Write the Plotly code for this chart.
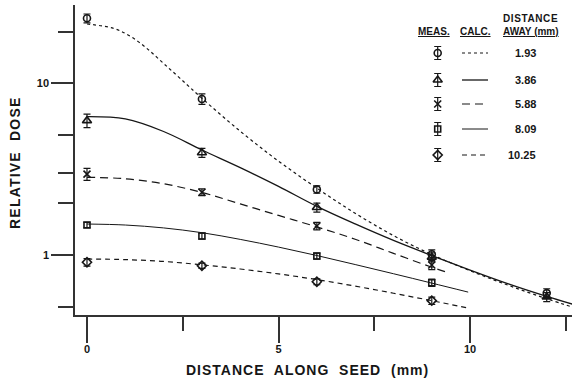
import plotly.graph_objects as go

# ---------------- data ----------------
distances = ["1.93", "3.86", "5.88", "8.09", "10.25"]

meas_x_5 = [0, 3, 6, 9, 12]
meas_x_4 = [0, 3, 6, 9]

meas_193 = [23.9, 8.1, 2.41, 1.01, 0.60]
meas_386 = [6.06, 3.94, 1.89, 0.97, 0.57]
meas_588 = [2.96, 2.32, 1.475, 0.875]
meas_809 = [1.495, 1.29, 0.987, 0.69]
meas_1025 = [0.907, 0.866, 0.699, 0.542]

# error bars, percent of value
err_193 = [6, 7, 5, 6, 6]
err_386 = [9, 6, 6, 6, 6]
err_588 = [8, 4.5, 5, 6]
err_809 = [3.5, 4, 4, 5]
err_1025 = [5, 3.5, 4, 5]

calc_x_193 = [0, 0.69, 1.12, 1.56, 2.0, 2.43, 3.0, 4.0, 5.0, 6.0, 7.0, 8.0, 9.0, 10.0, 11.0, 12.0, 12.7]
calc_y_193 = [22.15, 20.9, 18.86, 15.99, 13.04, 10.69, 8.18, 5.26, 3.52, 2.45, 1.75, 1.297, 1.005, 0.810, 0.666, 0.556, 0.495]

calc_x_386 = [0, 1, 2, 3, 4, 5, 6, 7, 8, 9, 10, 11, 12, 12.7]
calc_y_386 = [6.39, 6.2, 5.24, 4.09, 3.23, 2.51, 1.92, 1.517, 1.216, 0.993, 0.817, 0.679, 0.574, 0.515]

calc_x_588 = [0, 1, 2, 3, 4, 5, 6, 7, 8, 9, 9.35]
calc_y_588 = [2.835, 2.78, 2.60, 2.315, 1.984, 1.70, 1.458, 1.236, 1.022, 0.849, 0.80]

calc_x_809 = [0, 1, 2, 3, 4, 5, 6, 7, 8, 9, 9.95]
calc_y_809 = [1.515, 1.495, 1.438, 1.349, 1.233, 1.112, 0.993, 0.880, 0.778, 0.686, 0.608]

calc_x_1025 = [0, 1, 2, 3, 4, 5, 6, 7, 8, 9, 9.95]
calc_y_1025 = [0.948, 0.940, 0.917, 0.877, 0.829, 0.776, 0.719, 0.659, 0.599, 0.542, 0.491]

x_major_ticks = [0, 5, 10]
x_minor_ticks = [2.5, 7.5, 12.5]
y_major_ticks = [1, 10]
y_major_labels = ["1", "10"]
y_minor_ticks = [0.5, 2, 3, 5, 20]

# ---------------- styles ----------------
INK = "#161616"
FONT = "Liberation Sans"

series = [
    dict(mx=meas_x_5, my=meas_193, err=err_193, cx=calc_x_193, cy=calc_y_193,
         symbol="circle-open", size=7, dash="3px,3px", width=1.2),
    dict(mx=meas_x_5, my=meas_386, err=err_386, cx=calc_x_386, cy=calc_y_386,
         symbol="triangle-up-open", size=8, dash="solid", width=1.3),
    dict(mx=meas_x_4, my=meas_588, err=err_588, cx=calc_x_588, cy=calc_y_588,
         symbol="x-thin", size=7, dash="8px,5px", width=1.2),
    dict(mx=meas_x_4, my=meas_809, err=err_809, cx=calc_x_809, cy=calc_y_809,
         symbol="square-open", size=6, dash="solid", width=1.0),
    dict(mx=meas_x_4, my=meas_1025, err=err_1025, cx=calc_x_1025, cy=calc_y_1025,
         symbol="diamond-open", size=7, dash="5px,4px", width=1.2),
]

fig = go.Figure()

for s in series:
    fig.add_trace(go.Scatter(
        x=s["cx"], y=s["cy"], mode="lines",
        line=dict(color=INK, width=s["width"], dash=s["dash"], shape="spline", smoothing=1.0),
        hoverinfo="skip", cliponaxis=False,
    ))
for s in series:
    errs = [v * p / 100.0 for v, p in zip(s["my"], s["err"])]
    fig.add_trace(go.Scatter(
        x=s["mx"], y=s["my"], mode="markers",
        marker=dict(symbol=s["symbol"], size=s["size"], color=INK,
                    line=dict(color=INK, width=1.6)),
        error_y=dict(type="data", array=errs, visible=True, color=INK,
                     thickness=1.2, width=3.5),
        cliponaxis=False,
    ))

# ---------------- legend block (pixel overlay axes) ----------------
leg_rows = [53, 80, 104, 129, 155]
leg_marker_x = 437.7
leg_line_x = [462, 488]
leg_value_x = 538

for s, ry, lab in zip(series, leg_rows, distances):
    fig.add_trace(go.Scatter(
        x=[leg_marker_x], y=[ry], mode="markers", xaxis="x2", yaxis="y2",
        marker=dict(symbol=s["symbol"], size=s["size"], color=INK,
                    line=dict(color=INK, width=1.6)),
        error_y=dict(type="data", array=[6.5], visible=True, color=INK,
                     thickness=1.2, width=3.5),
        cliponaxis=False, hoverinfo="skip",
    ))
    fig.add_trace(go.Scatter(
        x=leg_line_x, y=[ry, ry], mode="lines", xaxis="x2", yaxis="y2",
        line=dict(color=INK, width=s["width"], dash=s["dash"]),
        cliponaxis=False, hoverinfo="skip",
    ))

annotations = []
for ry, lab in zip(leg_rows, distances):
    annotations.append(dict(x=leg_value_x, y=ry, xref="x2", yref="y2", text=lab,
                            xanchor="right", yanchor="middle", showarrow=False,
                            font=dict(family=FONT, size=11, color=INK, weight="bold")))

hdr_font = dict(family=FONT, size=10, color=INK, weight="bold")
annotations += [
    dict(x=434, y=31, xref="x2", yref="y2", text="<u>MEAS.</u>", showarrow=False,
         xanchor="center", yanchor="middle", font=hdr_font),
    dict(x=475.5, y=31, xref="x2", yref="y2", text="<u>CALC.</u>", showarrow=False,
         xanchor="center", yanchor="middle", font=hdr_font),
    dict(x=530, y=18, xref="x2", yref="y2",
         text='<span style="letter-spacing:0.6px">DISTANCE</span>', showarrow=False,
         xanchor="center", yanchor="middle", font=hdr_font),
    dict(x=531, y=31, xref="x2", yref="y2", text="<u>AWAY (mm)</u>", showarrow=False,
         xanchor="center", yanchor="middle", font=hdr_font),
]

# axis titles
annotations += [
    dict(x=0.467, y=0, xref="paper", yref="paper", yshift=-55,
         text='<span style="letter-spacing:1px">DISTANCE\u00a0 ALONG\u00a0 SEED\u00a0 (mm)</span>',
         showarrow=False, xanchor="center", yanchor="middle",
         font=dict(family=FONT, size=14, color=INK, weight="bold")),
    dict(x=-0.121, y=0.49, xref="paper", yref="paper", textangle=-90,
         text='<span style="letter-spacing:1.2px">RELATIVE\u00a0 DOSE</span>',
         showarrow=False, xanchor="center", yanchor="middle",
         font=dict(family=FONT, size=14, color=INK, weight="bold")),
]

tick_font = dict(family=FONT, size=11, color=INK, weight="bold")

fig.update_layout(
    width=584, height=383,
    margin=dict(l=75, r=12, t=5, b=68),
    paper_bgcolor="white", plot_bgcolor="white",
    showlegend=False,
    annotations=annotations,
    xaxis=dict(
        range=[-0.313, 12.66], showline=True, linecolor="#333", linewidth=1.5,
        ticks="outside", tickvals=x_major_ticks, ticklen=26, tickwidth=1.5,
        tickcolor="#333", tickfont=tick_font, ticklabelstandoff=-3,
        minor=dict(tickmode="array", tickvals=x_minor_ticks, ticks="outside",
                   ticklen=14, tickwidth=1.5, tickcolor="#333", showgrid=False),
        showgrid=False, zeroline=False,
    ),
    yaxis=dict(
        type="log", range=[-0.3494, 1.456], showline=True, linecolor="#333", linewidth=1.5,
        ticks="outside", tickvals=y_major_ticks, ticktext=y_major_labels, ticklen=22,
        tickwidth=1.5, tickcolor="#333", tickfont=tick_font,
        minor=dict(tickmode="array", tickvals=y_minor_ticks, ticks="outside",
                   ticklen=15, tickwidth=1.5, tickcolor="#333", showgrid=False),
        showgrid=False, zeroline=False,
    ),
    xaxis2=dict(overlaying="x", anchor="y2", range=[75, 572], visible=False),
    yaxis2=dict(overlaying="y", anchor="x2", range=[315, 5], visible=False),
)

fig.write_html(
    "out.html",
    config={"displayModeBar": False},
    post_script="document.body.style.margin='0';document.body.style.overflow='hidden';",
)
